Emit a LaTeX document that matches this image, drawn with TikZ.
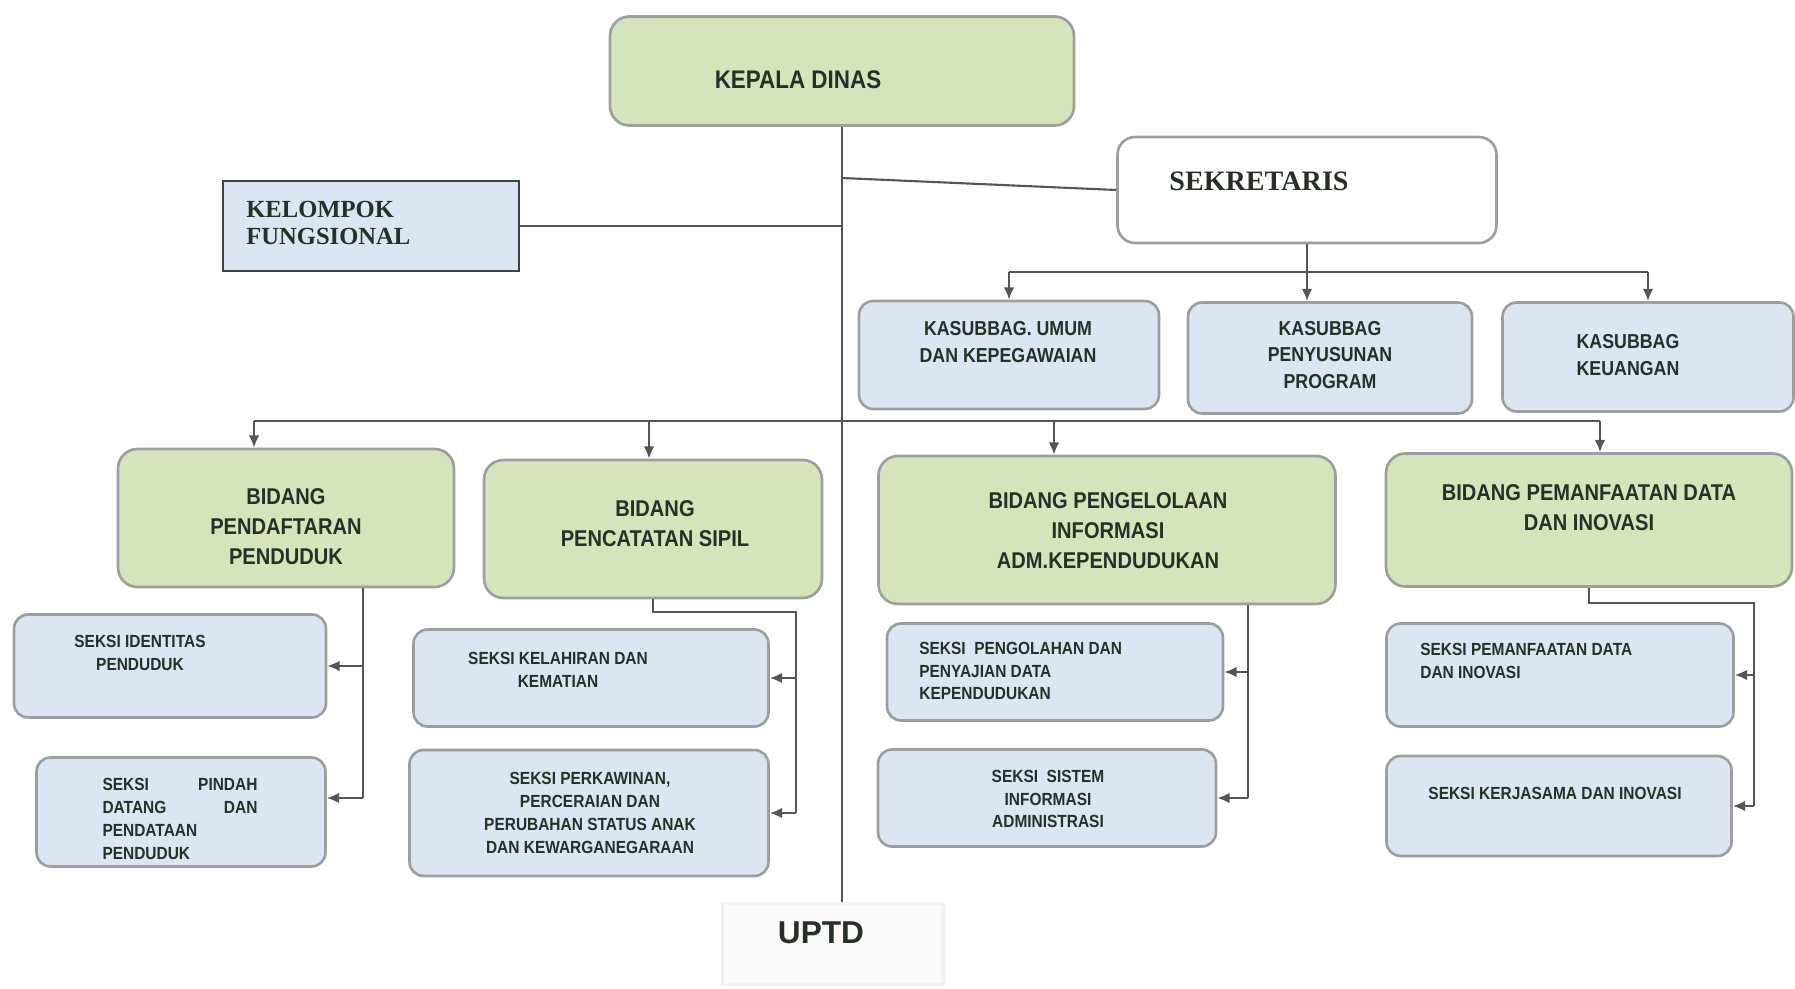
\documentclass[tikz,border=0pt]{standalone}
\usepackage{fontspec}
\setmainfont{Liberation Sans}
\newfontfamily\narrowsf[FakeStretch=0.88]{Liberation Sans}
\newfontfamily\seriff{Liberation Serif}
\usetikzlibrary{arrows.meta}
\definecolor{boxgreen}{RGB}{214,228,188}
\definecolor{boxblue}{RGB}{220,230,242}
\definecolor{inkdark}{RGB}{38,48,38}
\definecolor{linegray}{RGB}{85,85,85}
\newcommand{\fsz}[2]{\fontsize{#1}{#2}\selectfont}
\tikzset{
  unit/.style={draw=black!38,line width=1.5pt,rounded corners=8pt,inner sep=0pt},
  greenbox/.style={unit,fill=boxgreen,rounded corners=11pt},
  bluebox/.style={unit,fill=boxblue},
  link/.style={draw=linegray,line width=1.2pt},
  lbl/.style={text=inkdark,font=\narrowsf\bfseries,align=center,inner sep=0pt},
}

\begin{document}
\begin{tikzpicture}[x=0.02cm,y=-0.02cm,>={Latex[length=7pt,width=6pt]}]
  \useasboundingbox (0,0) rectangle (1795,989);

  \node[greenbox,minimum width=9.28cm,minimum height=2.18cm] (kd) at (842,71) {};
  \node[unit,fill=white,rounded corners=10pt,minimum width=7.58cm,minimum height=2.12cm] (sek) at (1307,190) {};
  \node[unit,draw=black!75,fill=boxblue,rounded corners=0pt,minimum width=5.92cm,minimum height=1.80cm] (kf) at (371,226) {};
  \node[unit,draw=black!5,fill=black!2,rounded corners=0pt,minimum width=4.42cm,minimum height=1.62cm] (uptd) at (833,944) {};

  \node[bluebox,minimum width=6.00cm,minimum height=2.16cm] (kumum) at (1009,355) {};
  \node[bluebox,minimum width=5.68cm,minimum height=2.22cm] (kprog) at (1330,358) {};
  \node[bluebox,minimum width=5.82cm,minimum height=2.18cm] (kkeu) at (1648,357) {};

  \node[greenbox,minimum width=6.72cm,minimum height=2.76cm] (bpend) at (286,518) {};
  \node[greenbox,minimum width=6.76cm,minimum height=2.76cm] (bcat) at (653,529) {};
  \node[greenbox,minimum width=9.14cm,minimum height=2.96cm] (bpeng) at (1107,530) {};
  \node[greenbox,minimum width=8.12cm,minimum height=2.66cm] (bpem) at (1589,520) {};

  \node[bluebox,minimum width=6.24cm,minimum height=2.06cm] (sid) at (170,666) {};
  \node[bluebox,minimum width=5.78cm,minimum height=2.18cm] (spin) at (181,812) {};
  \node[bluebox,minimum width=7.10cm,minimum height=1.94cm] (slahir) at (591,678) {};
  \node[bluebox,minimum width=7.18cm,minimum height=2.52cm] (skawin) at (589,813) {};
  \node[bluebox,minimum width=6.72cm,minimum height=1.94cm] (solah) at (1055,672) {};
  \node[bluebox,minimum width=6.76cm,minimum height=1.94cm] (ssis) at (1047,798) {};
  \node[bluebox,minimum width=6.94cm,minimum height=2.06cm] (sdata) at (1560,675) {};
  \node[bluebox,minimum width=6.90cm,minimum height=2.00cm] (skerja) at (1559,806) {};

  \node[lbl,font=\narrowsf\bfseries\fsz{14.5}{17}] (t-kd) at (798,80) {KEPALA DINAS};
  \node[lbl,font=\seriff\bfseries\fsz{16}{18}] (t-sek) at (1259,181) {SEKRETARIS};
  \node[lbl,font=\seriff\bfseries\fsz{14}{15.6},align=left,anchor=west] (t-kf) at (246,223) {KELOMPOK\\FUNGSIONAL};
  \node[lbl,font=\bfseries\fsz{18}{20}] (t-uptd) at (821,933) {UPTD};

  \node[lbl,font=\narrowsf\bfseries\fsz{11.5}{15}] (t-kumum) at (1008,342) {KASUBBAG. UMUM\\DAN KEPEGAWAIAN};
  \node[lbl,font=\narrowsf\bfseries\fsz{11.5}{15}] (t-kprog) at (1330,355) {KASUBBAG\\PENYUSUNAN\\PROGRAM};
  \node[lbl,font=\narrowsf\bfseries\fsz{11.5}{15}] (t-kkeu) at (1628,355) {KASUBBAG\\KEUANGAN};

  \node[lbl,font=\narrowsf\bfseries\fsz{13}{17}] (t-bpend) at (286,527) {BIDANG\\PENDAFTARAN\\PENDUDUK};
  \node[lbl,font=\narrowsf\bfseries\fsz{13}{17}] (t-bcat) at (655,524) {BIDANG\\PENCATATAN SIPIL};
  \node[lbl,font=\narrowsf\bfseries\fsz{13}{17}] (t-bpeng) at (1108,531) {BIDANG PENGELOLAAN\\INFORMASI\\ADM.KEPENDUDUKAN};
  \node[lbl,font=\narrowsf\bfseries\fsz{13}{17}] (t-bpem) at (1589,508) {BIDANG PEMANFAATAN DATA\\DAN INOVASI};

  \node[lbl,font=\narrowsf\bfseries\fsz{10}{13}] (t-sid) at (140,653) {SEKSI IDENTITAS\\PENDUDUK};
  \node[lbl,font=\narrowsf\bfseries\fsz{10}{13},align=left] (t-spin) at (180,819)
    {\makebox[3.1cm][s]{SEKSI\hfill PINDAH}\\\makebox[3.1cm][s]{DATANG\hfill DAN}\\PENDATAAN\\PENDUDUK};
  \node[lbl,font=\narrowsf\bfseries\fsz{10}{13}] (t-slahir) at (558,670) {SEKSI KELAHIRAN DAN\\KEMATIAN};
  \node[lbl,font=\narrowsf\bfseries\fsz{10}{13}] (t-skawin) at (590,813) {SEKSI PERKAWINAN,\\PERCERAIAN DAN\\PERUBAHAN STATUS ANAK\\DAN KEWARGANEGARAAN};
  \node[lbl,font=\narrowsf\bfseries\fsz{10}{13},align=left,anchor=west] (t-solah) at (919,671) {SEKSI \ PENGOLAHAN DAN\\PENYAJIAN DATA\\KEPENDUDUKAN};
  \node[lbl,font=\narrowsf\bfseries\fsz{10}{13}] (t-ssis) at (1048,799) {SEKSI \ SISTEM\\INFORMASI\\ADMINISTRASI};
  \node[lbl,font=\narrowsf\bfseries\fsz{10}{13},align=left,anchor=west] (t-sdata) at (1420,661) {SEKSI PEMANFAATAN DATA\\DAN INOVASI};
  \node[lbl,font=\narrowsf\bfseries\fsz{10}{13}] (t-skerja) at (1555,793) {SEKSI KERJASAMA DAN INOVASI};

  \draw[link] (kd.south) -- (kd.south |- uptd.north);
  \coordinate (jsek) at (842,178);
  \draw[link] (jsek) -- (sek.west);
  \draw[link] (kf.east) -- (kf.east -| kd.south);

  \coordinate (sbus) at (1313,272);
  \draw[link] (kumum.north |- sbus) -- (kkeu.north |- sbus);
  \draw[link,->] (sek.south) -- (sek.south |- kprog.north);
  \foreach \n in {kumum,kkeu}
    \draw[link,->] (\n.north |- sbus) -- (\n.north);

  \coordinate (b1) at (254,421);
  \coordinate (b2) at (649,421);
  \coordinate (b3) at (1054,421);
  \coordinate (b4) at (1600,421);
  \draw[link] (b1) -- (b4);
  \foreach \c/\n in {b1/bpend,b2/bcat,b3/bpeng,b4/bpem}
    \draw[link,->] (\c) -- (\c |- \n.north);

  \coordinate (d1) at (363,798);
  \draw[link] (d1 |- bpend.south) -- (d1);
  \draw[link,->] (d1 |- sid.east) -- (sid.east);
  \draw[link,->] (d1) -- (d1 -| spin.east);

  \coordinate (d2) at (796,612);
  \draw[link] (bcat.south) |- (d2) -- (d2 |- skawin.east);
  \draw[link,->] (d2 |- slahir.east) -- (slahir.east);
  \draw[link,->] (d2 |- skawin.east) -- (skawin.east);

  \coordinate (d3) at (1248,798);
  \draw[link] (d3 |- bpeng.south) -- (d3);
  \draw[link,->] (d3 |- solah.east) -- (solah.east);
  \draw[link,->] (d3) -- (d3 -| ssis.east);

  \coordinate (d4) at (1754,603);
  \draw[link] (bpem.south) |- (d4) -- (d4 |- skerja.east);
  \draw[link,->] (d4 |- sdata.east) -- (sdata.east);
  \draw[link,->] (d4 |- skerja.east) -- (skerja.east);
\end{tikzpicture}
\end{document}
